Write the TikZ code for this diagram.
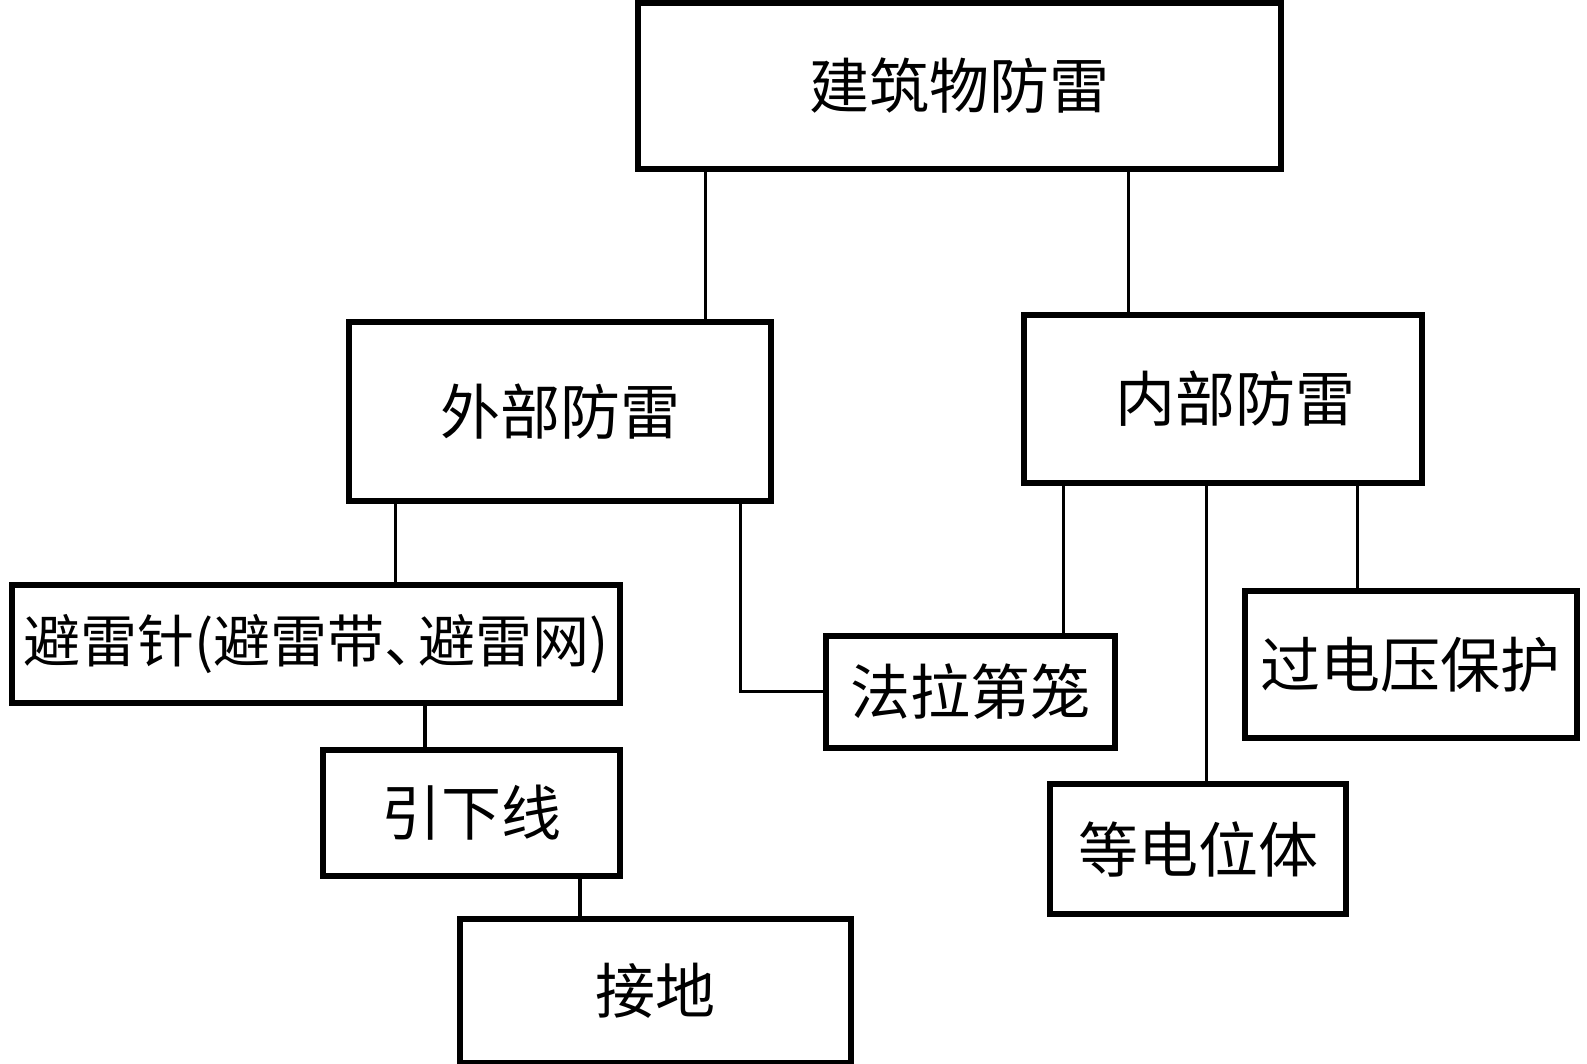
\documentclass[tikz,border=0pt]{standalone}
\usepackage{fontspec}
\newfontfamily\cjk{Noto Sans CJK SC}
\begin{document}
\begin{tikzpicture}[x=0.5pt,y=-0.5pt,
  box/.style={draw,line width=3pt,inner sep=0pt,font=\cjk\fontsize{30}{30}\selectfont},
  conn/.style={line width=1.6pt}]
\useasboundingbox (0,0) rectangle (1587,1064);
\node[box,minimum width=321.8pt,minimum height=83pt] (top) at (959.4,86) {建筑物防雷\hspace{18pt}};
\node[box,minimum width=211pt,minimum height=89.6pt] (ext) at (560.1,411.4) {\raisebox{-2.5pt}{外部防雷}\hspace{8pt}};
\node[box,minimum width=198.9pt,minimum height=84pt] (int) at (1223,398.7) {\hspace{12pt}内部防雷};
\node[box,minimum width=304.1pt,minimum height=59.2pt,font=\cjk\fontsize{28.5}{28.5}\selectfont] (rod) at (316.3,644.1) {\raisebox{-1.5pt}{避雷针(避雷带、\kern-0.4em避雷网)}};
\node[box,minimum width=148.8pt,minimum height=63.3pt] (down) at (471.6,813.1) {\raisebox{-1.5pt}{引下线}\hspace{6pt}};
\node[box,minimum width=195.8pt,minimum height=71.9pt] (earth) at (655.3,990.7) {接地};
\node[box,minimum width=144.7pt,minimum height=56.2pt] (cage) at (970.5,691.7) {\raisebox{-2pt}{法拉第笼}\hspace{7pt}};
\node[box,minimum width=147.8pt,minimum height=64.8pt] (equi) at (1198.2,849.1) {\raisebox{-2pt}{等电位体}};
\node[box,minimum width=166pt,minimum height=73.4pt] (surge) at (1410.7,664.4) {\raisebox{-2.5pt}{过电压保护}};
\draw[conn] (705.4,0 |- top.south) -- (705.4,0 |- ext.north);
\draw[conn] (1128.4,0 |- top.south) -- (1128.4,0 |- int.north);
\draw[conn] (395.7,0 |- ext.south) -- (395.7,0 |- rod.north);
\draw[conn] (740.8,0 |- ext.south) |- (cage.west);
\draw[conn] (425,0 |- rod.south) -- (425,0 |- down.north);
\draw[conn] (579.9,0 |- down.south) -- (579.9,0 |- earth.north);
\draw[conn] (1063.6,0 |- int.south) -- (1063.6,0 |- cage.north);
\draw[conn] (1206.3,0 |- int.south) -- (1206.3,0 |- equi.north);
\draw[conn] (1357.1,0 |- int.south) -- (1357.1,0 |- surge.north);
\end{tikzpicture}
\end{document}
